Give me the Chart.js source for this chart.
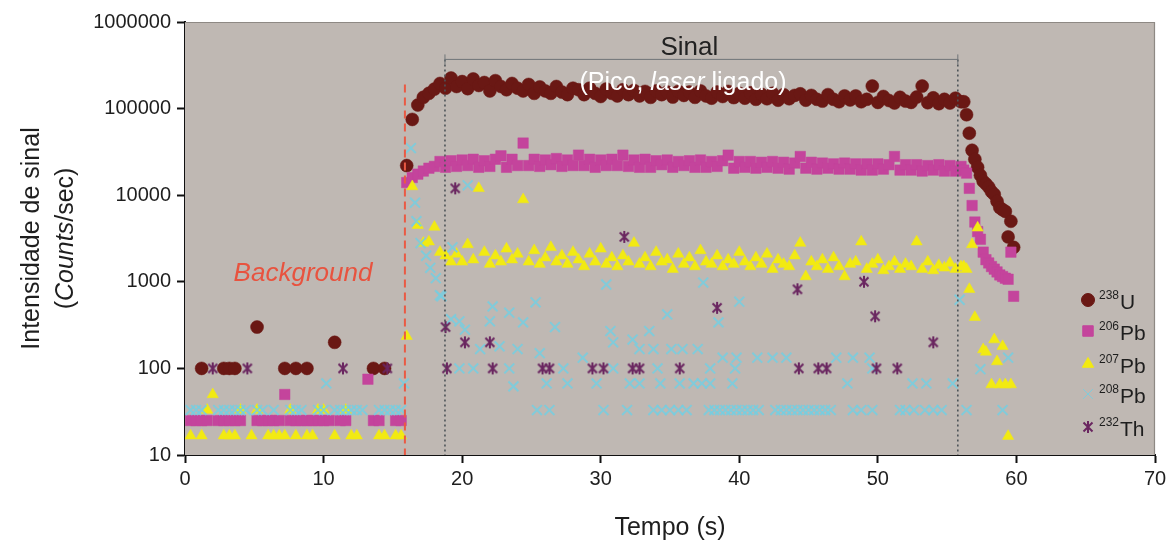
<!DOCTYPE html>
<html>
<head>
<meta charset="utf-8">
<script src="https://cdn.jsdelivr.net/npm/chart.js"></script>
<style>
  html, body { margin: 0; padding: 0; background: #fff; }
  canvas { display: block; }
</style>
</head>
<body>
<canvas id="chart" width="1175" height="548"></canvas>
<script>
// acquisition times (s), shared by the three dense series
const tempo = [
  0.4,0.8,1.2,1.6,2.0,2.4,2.8,3.2,3.6,4.0,
  4.4,4.8,5.2,5.6,6.0,6.4,6.8,7.2,7.6,8.0,
  8.4,8.8,9.2,9.6,10.0,10.4,10.8,11.2,11.6,12.0,
  12.4,12.8,13.2,13.6,14.0,14.4,14.8,15.2,15.6,16.0,
  16.4,16.8,17.2,17.6,18.0,18.4,18.8,19.2,19.6,20.0,
  20.4,20.8,21.2,21.6,22.0,22.4,22.8,23.2,23.6,24.0,
  24.4,24.8,25.2,25.6,26.0,26.4,26.8,27.2,27.6,28.0,
  28.4,28.8,29.2,29.6,30.0,30.4,30.8,31.2,31.6,32.0,
  32.4,32.8,33.2,33.6,34.0,34.4,34.8,35.2,35.6,36.0,
  36.4,36.8,37.2,37.6,38.0,38.4,38.8,39.2,39.6,40.0,
  40.4,40.8,41.2,41.6,42.0,42.4,42.8,43.2,43.6,44.0,
  44.4,44.8,45.2,45.6,46.0,46.4,46.8,47.2,47.6,48.0,
  48.4,48.8,49.2,49.6,50.0,50.4,50.8,51.2,51.6,52.0,
  52.4,52.8,53.2,53.6,54.0,54.4,54.8,55.2,55.6,56.0,
  56.2,56.4,56.6,56.8,57.0,57.2,57.4,57.6,57.8,58.0,
  58.2,58.4,58.6,58.8,59.0,59.2,59.4,59.6,59.8,60.0
];

const u238 = [
  null,null,100,null,null,null,100,100,100,null,
  null,null,300,null,null,null,null,100,null,100,
  null,100,null,null,null,null,200,null,null,null,
  null,null,null,100,null,100,null,null,null,22000,
  75000,110000,135000,150000,168000,195000,172000,225000,180000,205000,
  170000,220000,185000,200000,160000,210000,180000,165000,195000,172000,
  160000,190000,150000,178000,160000,150000,180000,155000,145000,172000,
  165000,145000,172000,150000,138000,168000,150000,140000,165000,145000,
  162000,140000,158000,135000,160000,145000,155000,136000,158000,142000,
  155000,135000,160000,140000,132000,155000,138000,158000,134000,150000,
  132000,152000,128000,146000,130000,150000,125000,145000,130000,142000,
  148000,125000,142000,128000,122000,145000,128000,120000,140000,126000,
  140000,120000,128000,182000,118000,138000,124000,116000,135000,122000,
  118000,136000,182000,117000,133000,114000,128000,116000,132000,120000,
  120000,85000,52000,33000,26000,21000,17000,14500,13500,12400,
  11000,10200,8500,7200,6800,6500,3300,5000,2500,null
];

const pb206 = [
  25,25,25,25,null,25,25,25,25,25,
  null,null,25,25,25,25,25,50,25,25,
  25,25,25,25,25,25,null,25,25,null,
  null,null,75,25,25,null,null,25,25,14000,
  16000,17500,19000,20500,21500,24500,21000,25000,21500,25500,
  22000,26000,21000,25000,21500,26000,28500,21000,26000,22000,
  40000,22000,26000,21500,25500,22500,26500,21500,25500,22000,
  29000,22000,26000,21000,25500,22000,26000,22000,29000,21500,
  25500,21000,26000,21000,25000,22500,25500,21000,24500,22000,
  25000,21000,25500,21000,24500,21500,25000,29000,20500,24500,
  21000,24500,20500,24000,21000,24500,20500,24000,20000,23500,
  28000,20500,24000,20000,23500,20500,23000,20000,23500,20000,
  23000,19500,23000,19500,23000,20000,22500,28000,19500,22500,
  19500,22500,19000,22000,19500,22500,19000,22000,19000,21500,
  19500,18000,12000,7600,4900,3800,3100,2200,1800,1650,
  1500,1400,1300,1200,1150,1100,1070,2200,680,null
];

const pb207 = [
  16.7,null,16.7,33,50,null,16.7,16.7,16.7,33,
  null,16.7,33,null,16.7,16.7,16.7,16.7,33,16.7,
  null,16.7,16.7,33,33,null,16.7,null,33,16.7,
  16.7,null,null,null,16.7,16.7,null,16.7,16.7,235,
  12600,4500,2800,2900,4300,2200,2000,1700,2100,1700,
  2700,1800,12000,2200,1600,2000,1700,2400,1800,2100,
  8900,1700,2300,1600,1900,2500,1700,2000,1600,2200,
  1800,1500,2100,1700,2400,1600,1900,1500,2000,1700,
  2800,1600,1900,1500,2200,1700,1800,1400,2100,1600,
  1900,1500,2300,1700,1600,2000,1500,1800,1600,2200,
  1700,1500,1900,1600,2100,1400,1800,1600,1500,2000,
  2800,1150,1700,1500,1800,1400,1900,1500,1150,1600,
  1700,2900,1400,1600,1800,1350,1500,1700,1400,1600,
  1500,2900,1400,1700,1350,1550,1450,1650,1400,1500,
  1500,1400,820,2700,390,4200,null,165,155,null,
  65,215,120,65,180,65,16.5,65,null,null
];

// sparse series: [time, counts/sec]
const pb208 = [
  [0.4,33],[0.8,33],[1.2,33],[2.4,33],[2.8,33],[3.2,33],[3.6,33],[4.0,33],[4.4,33],[5.2,33],
  [5.6,33],[6.4,33],[7.6,33],[8.0,33],[8.4,33],[9.6,33],[10.0,33],[10.2,67],[10.8,33],[11.2,33],
  [11.6,33],[12.0,33],[12.4,33],[12.8,33],[14.0,33],[14.4,33],[14.8,33],[15.2,33],[15.6,33],[15.8,67],
  [16.3,35000],[16.6,8200],[16.7,5000],[17.0,2800],[17.4,2000],[17.7,1450],[18.1,1100],[18.4,700],
  [18.5,680],[19.2,370],[19.3,2500],[20.4,13000],[19.8,350],[20.2,280],[22.2,520],[22.0,350],
  [23.4,440],[24.4,340],[25.3,580],[26.7,300],[21.3,167],[22.7,180],[24.0,167],[25.6,150],
  [28.7,133],[30.7,270],[30.9,200],[32.3,215],[33.5,270],[20.8,100],[19.8,100],[23.4,100],
  [27.3,100],[30.9,100],[26.1,67],[27.6,67],[29.7,67],[32.1,67],[32.8,67],[23.7,62],
  [25.4,33],[26.3,33],[30.2,33],[31.9,33],[30.4,930],[37.4,980],[40.0,590],[34.8,420],[38.5,340],
  [32.8,167],[33.8,167],[35.1,167],[35.9,167],[37.0,167],[38.8,133],[39.8,133],[41.3,133],
  [42.4,133],[43.4,133],[47.0,133],[48.2,133],[49.4,133],[34.1,100],[37.9,100],[39.7,100],
  [49.6,100],[34.3,67],[35.7,67],[36.7,67],[37.3,67],[37.9,67],[39.5,67],[47.8,67],[52.5,67],
  [53.5,67],[55.4,67],[33.8,33],[34.4,33],[35.0,33],[35.6,33],[36.2,33],[37.8,33],[38.2,33],
  [38.6,33],[39.0,33],[39.4,33],[39.8,33],[40.2,33],[40.6,33],[41.0,33],[41.4,33],[42.6,33],
  [43.0,33],[43.4,33],[43.8,33],[44.2,33],[44.6,33],[45.0,33],[45.4,33],[45.8,33],[46.2,33],
  [46.6,33],[48.2,33],[48.8,33],[49.6,33],[51.6,33],[52.0,33],[52.6,33],[53.4,33],[54.0,33],
  [54.6,33],[57.4,98],[59.4,133],[56.4,33],[59.0,33],[55.9,620]
];

const th232 = [
  [2.0,100],[4.5,100],[11.4,100],[14.6,100],[18.8,300],[18.9,100],[19.5,12000],[20.2,200],
  [22.0,200],[22.2,100],[25.8,100],[26.3,100],[29.4,100],[30.2,100],[31.7,3300],[32.3,100],
  [32.8,100],[35.7,100],[38.4,500],[44.2,820],[44.3,100],[45.7,100],[46.3,100],[49.0,1000],
  [49.8,400],[49.9,100],[51.4,100],[54.0,200]
];

const isotopes = ['238U', '206Pb', '207Pb', '208Pb', '232Th'];
const xTicks = [0, 10, 20, 30, 40, 50, 60, 70];
const yTicks = [10, 100, 1000, 10000, 100000, 1000000];

const FONT = 'Liberation Sans, Arial, sans-serif';
const colors = {
  u: '#6a1814', pb206: '#c4449c', pb207: '#f2ea12', pb208: 'rgba(118,206,224,0.85)', th: '#6a2660'
};

function onGrid(vals) {
  return tempo.map((t, i) => ({ x: t, y: vals[i] })).filter(p => p.y != null);
}
const fromPairs = arr => arr.map(([x, y]) => ({ x, y }));

function asterisk(size, color) {
  const c = document.createElement('canvas');
  c.width = c.height = size;
  const g = c.getContext('2d');
  const m = size / 2, r = size / 2 - 1;
  g.strokeStyle = color;
  g.lineWidth = 2;
  g.beginPath();
  g.moveTo(m - r * 0.75, m - r * 0.75); g.lineTo(m + r * 0.75, m + r * 0.75);
  g.moveTo(m + r * 0.75, m - r * 0.75); g.lineTo(m - r * 0.75, m + r * 0.75);
  g.moveTo(m, m - r); g.lineTo(m, m + r);
  g.stroke();
  return c;
}
const thStyle = asterisk(14, colors.th);

const decor = {
  id: 'decor',
  beforeDatasetsDraw(chart) {
    const { ctx, chartArea: a } = chart;
    ctx.save();
    ctx.fillStyle = '#bfb8b3';
    ctx.fillRect(a.left, a.top, a.right - a.left, a.bottom - a.top);
    ctx.strokeStyle = '#8e8984';
    ctx.lineWidth = 1.2;
    ctx.beginPath();
    ctx.moveTo(a.left, a.top + 0.5);
    ctx.lineTo(a.right - 0.5, a.top + 0.5);
    ctx.lineTo(a.right - 0.5, a.bottom);
    ctx.stroke();
    ctx.restore();
  },
  afterDatasetsDraw(chart) {
    const { ctx, chartArea: a, scales: { x, y } } = chart;
    ctx.save();
    // background limit
    const xb = x.getPixelForValue(15.87);
    ctx.strokeStyle = '#ea5a44';
    ctx.lineWidth = 2;
    ctx.setLineDash([8, 5]);
    ctx.beginPath();
    ctx.moveTo(xb, y.getPixelForValue(190000));
    ctx.lineTo(xb, a.bottom);
    ctx.stroke();

    // signal window
    const x1 = x.getPixelForValue(18.76), x2 = x.getPixelForValue(55.77);
    const yl = y.getPixelForValue(370000);
    ctx.strokeStyle = '#4d5358';
    ctx.lineWidth = 1.6;
    ctx.setLineDash([2, 3]);
    ctx.beginPath();
    ctx.moveTo(x1, yl); ctx.lineTo(x1, a.bottom);
    ctx.moveTo(x2, yl); ctx.lineTo(x2, a.bottom);
    ctx.stroke();
    ctx.setLineDash([]);
    ctx.strokeStyle = '#6f7478';
    ctx.lineWidth = 1;
    ctx.beginPath();
    ctx.moveTo(x1, yl); ctx.lineTo(x2, yl);
    ctx.moveTo(x1, yl - 5); ctx.lineTo(x1, yl + 5);
    ctx.moveTo(x2, yl - 5); ctx.lineTo(x2, yl + 5);
    ctx.stroke();

    ctx.textBaseline = 'alphabetic';
    ctx.fillStyle = '#222';
    ctx.textAlign = 'center';
    ctx.font = '26px ' + FONT;
    ctx.fillText('Sinal', (x1 + x2) / 2 - 12, yl - 4);

    // (Pico, laser ligado)
    const parts = [['(Pico, ', ''], ['laser', 'italic '], [' ligado)', '']];
    ctx.fillStyle = '#ffffff';
    ctx.textAlign = 'left';
    let w = 0;
    parts.forEach(([s, st]) => { ctx.font = st + '25px ' + FONT; w += ctx.measureText(s).width; });
    let px = 683 - w / 2;
    parts.forEach(([s, st]) => { ctx.font = st + '25px ' + FONT; ctx.fillText(s, px, 90); px += ctx.measureText(s).width; });

    ctx.fillStyle = '#e8533f';
    ctx.font = 'italic 26px ' + FONT;
    ctx.textAlign = 'center';
    ctx.fillText('Background', 303, 281);
    ctx.restore();
  },
  afterDraw(chart) {
    const { ctx, chartArea: a } = chart;
    ctx.save();
    ctx.fillStyle = '#1e1e1e';
    ctx.textAlign = 'center';
    ctx.textBaseline = 'alphabetic';
    ctx.font = '25px ' + FONT;
    ctx.fillText('Tempo (s)', (a.left + a.right) / 2, 535);

    const cy = (a.top + a.bottom) / 2;
    ctx.translate(0, cy);
    ctx.rotate(-Math.PI / 2);
    ctx.font = '25px ' + FONT;
    ctx.fillText('Intensidade de sinal', 0, 39);
    const seg = [['(', ''], ['Counts', 'italic '], ['/sec)', '']];
    let w = 0;
    seg.forEach(([s, st]) => { ctx.font = st + '25px ' + FONT; w += ctx.measureText(s).width; });
    ctx.textAlign = 'left';
    let p = -w / 2;
    seg.forEach(([s, st]) => { ctx.font = st + '25px ' + FONT; ctx.fillText(s, p, 73); p += ctx.measureText(s).width; });
    ctx.restore();

    // legend
    const rows = [300, 331, 364, 394, 427];
    const styles = chart.data.datasets.slice().sort((d1, d2) => d2.order - d1.order);
    ctx.save();
    styles.forEach((ds, i) => {
      const yy = rows[i], xx = 1088;
      ctx.fillStyle = ds.pointBackgroundColor || ds.pointBorderColor;
      ctx.strokeStyle = ds.pointBorderColor;
      Chart.helpers.drawPoint(ctx, {
        pointStyle: ds.pointStyle, radius: ds.pointRadius, rotation: 0, borderWidth: ds.pointBorderWidth
      }, xx, yy);
      const m = ds.label.match(/^(\d+)(\D+)$/);
      ctx.fillStyle = '#1e1e1e';
      ctx.textAlign = 'left';
      ctx.font = '12px ' + FONT;
      ctx.fillText(m[1], 1099, yy - 1);
      const sw = ctx.measureText(m[1]).width;
      ctx.font = '21px ' + FONT;
      ctx.fillText(m[2], 1099 + sw + 1, yy + 9);
    });
    ctx.restore();
  }
};

new Chart(document.getElementById('chart'), {
  type: 'scatter',
  data: {
    datasets: [
      { label: isotopes[4], data: fromPairs(th232), pointStyle: thStyle, pointRadius: 7,
        pointBorderColor: colors.th, pointBackgroundColor: colors.th, pointBorderWidth: 2, order: 1 },
      { label: isotopes[3], data: fromPairs(pb208), pointStyle: 'crossRot', pointRadius: 7,
        pointBorderColor: colors.pb208, pointBackgroundColor: colors.pb208, pointBorderWidth: 2, order: 2 },
      { label: isotopes[2], data: onGrid(pb207), pointStyle: 'triangle', pointRadius: 6.5,
        pointBorderColor: colors.pb207, pointBackgroundColor: colors.pb207, pointBorderWidth: 0.5, order: 3 },
      { label: isotopes[1], data: onGrid(pb206), pointStyle: 'rect', pointRadius: 7.4,
        pointBorderColor: colors.pb206, pointBackgroundColor: colors.pb206, pointBorderWidth: 0.5, order: 4 },
      { label: isotopes[0], data: onGrid(u238), pointStyle: 'circle', pointRadius: 6.5,
        pointBorderColor: colors.u, pointBackgroundColor: colors.u, pointBorderWidth: 0.5, order: 5 }
    ]
  },
  options: {
    responsive: false,
    animation: false,
    devicePixelRatio: 1,
    events: [],
    layout: { padding: { top: 22, right: 20, left: 0, bottom: 0 } },
    plugins: { legend: { display: false }, tooltip: { enabled: false } },
    scales: {
      x: {
        type: 'linear', min: 0, max: 70,
        afterBuildTicks: ax => { ax.ticks = xTicks.map(v => ({ value: v })); },
        afterFit: ax => { ax.height = 93; },
        grid: { drawOnChartArea: false, drawTicks: true, tickLength: 8, tickColor: '#111', tickWidth: 2 },
        border: { display: true, color: '#111', width: 2 },
        ticks: { color: '#1e1e1e', font: { family: FONT, size: 20 }, padding: 4, maxRotation: 0 }
      },
      y: {
        type: 'logarithmic', min: 10, max: 1000000,
        afterBuildTicks: ax => { ax.ticks = yTicks.map(v => ({ value: v })); },
        afterFit: ax => { ax.width = 185; },
        grid: { drawOnChartArea: false, drawTicks: true, tickLength: 8, tickColor: '#111', tickWidth: 2 },
        border: { display: true, color: '#111', width: 2 },
        ticks: { color: '#1e1e1e', font: { family: FONT, size: 20 }, padding: 6, callback: v => String(v) }
      }
    }
  },
  plugins: [decor]
});
</script>
</body>
</html>
